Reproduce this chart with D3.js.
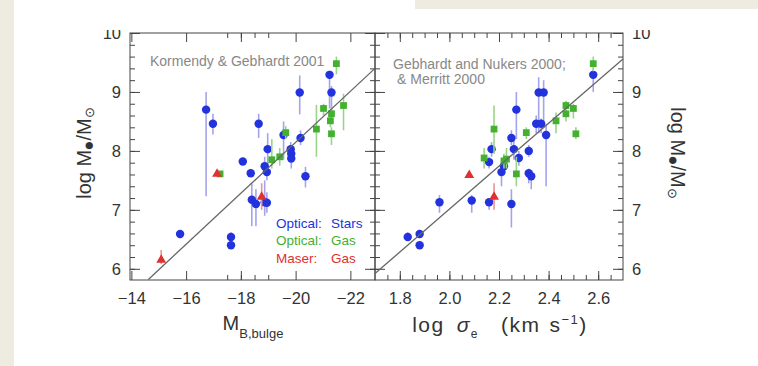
<!DOCTYPE html>
<html>
<head>
<meta charset="utf-8">
<script src="https://cdn.jsdelivr.net/npm/d3@7"></script>
<style>
  body { margin: 0; background: #fff; }
  svg { display: block; font-family: "Liberation Sans", Arial, sans-serif; }
</style>
</head>
<body>
<svg id="chart" width="758" height="366"></svg>
<script>
// ---- data: [x, log M, errLow, errHigh] (null = no error bar) ----
// left panel: M_B,bulge
var kgStars = [
  [-16.73, 8.70, 7.23, 9.00], [-16.98, 8.46, 8.28, 8.63], [-15.78, 6.59, 6.52, 6.66],
  [-17.64, 6.54, 6.48, 6.62], [-17.64, 6.40, 6.36, 6.44], [-18.07, 7.82, 7.78, 7.86],
  [-18.36, 7.62, 7.58, 7.66], [-18.65, 8.46, 8.22, 8.63], [-18.87, 7.74, 7.60, 7.90],
  [-18.95, 7.64, 7.50, 7.75], [-18.98, 8.03, 7.70, 8.30], [-19.56, 8.27, 7.85, 8.50],
  [-19.82, 8.03, 7.90, 8.15], [-19.84, 7.95, 7.80, 8.10], [-19.84, 7.87, 7.70, 8.00],
  [-20.18, 8.22, 8.10, 8.35], [-20.15, 8.99, 8.62, 9.28], [-20.36, 7.57, 7.38, 7.73],
  [-21.24, 9.29, 8.72, 9.36], [-21.31, 8.99, 8.55, 9.10], [-18.40, 7.17, 6.72, 7.45],
  [-18.55, 7.10, 6.72, 7.35], [-18.87, 7.13, 6.90, 7.50], [-18.95, 7.12, 6.95, 7.30]
];
var kgGas = [
  [-17.24, 7.61, null, null], [-19.13, 7.85, 7.70, 8.20], [-19.42, 7.90, 7.75, 8.05],
  [-19.64, 8.31, 8.20, 8.42], [-20.76, 8.37, 7.90, 8.78], [-21.02, 8.72, 8.60, 8.80],
  [-21.27, 8.51, 8.40, 8.60], [-21.31, 8.63, 8.50, 8.75], [-21.31, 8.29, 8.10, 8.40],
  [-21.75, 8.77, 8.35, 8.97], [-21.49, 9.48, 9.30, 9.60]
];
var kgMaser = [
  [-15.09, 6.15, 6.08, 6.32], [-17.13, 7.61, null, null], [-18.76, 7.22, 7.00, 7.45]
];
// right panel: log sigma_e
var sigStars = [
  [1.832, 6.54, 6.48, 6.62], [1.88, 6.59, 6.53, 6.65], [1.88, 6.40, 6.36, 6.44],
  [1.96, 7.13, 6.95, 7.25], [2.09, 7.16, 6.95, 7.25], [2.16, 7.13, 7.00, 7.20],
  [2.25, 7.10, 6.70, 7.35], [2.16, 7.81, 7.70, 7.90], [2.22, 7.74, 7.60, 7.85],
  [2.21, 7.64, 7.40, 7.75], [2.28, 7.88, 7.75, 8.00], [2.32, 7.62, 7.45, 7.70],
  [2.33, 7.57, 7.35, 7.65], [2.32, 8.00, 7.90, 8.10], [2.17, 8.03, 7.90, 8.15],
  [2.26, 8.03, 7.85, 8.20], [2.25, 8.22, 8.10, 8.35], [2.27, 8.70, 8.20, 9.00],
  [2.35, 8.46, 8.30, 8.60], [2.37, 8.46, 8.30, 8.55], [2.39, 8.27, 7.40, 8.45],
  [2.36, 8.99, 8.30, 9.25], [2.38, 8.99, 8.40, 9.20], [2.58, 9.29, 9.00, 9.40]
];
var sigGas = [
  [2.18, 8.37, 7.95, 8.77], [2.14, 7.88, 7.70, 8.05], [2.23, 7.86, 7.70, 8.05],
  [2.22, 7.83, 7.70, 7.95], [2.27, 7.61, 7.40, 7.90], [2.31, 8.31, 8.20, 8.40],
  [2.43, 8.51, 8.30, 8.65], [2.47, 8.77, 8.60, 8.85], [2.47, 8.63, 8.50, 8.75],
  [2.50, 8.72, 8.55, 8.80], [2.51, 8.29, 8.20, 8.40], [2.58, 9.48, 9.35, 9.60]
];
var sigMaser = [
  [2.08, 7.59, null, null], [2.18, 7.22, 7.00, 7.45]
];
// fit lines (end points)
var fitLeftX = [-14.62, -22.9], fitLeftY = [5.82, 9.40];
var fitRightX = [1.70, 2.70], fitRightY = [5.92, 9.56];
// ticks
var magTicks = [-14, -16, -18, -20, -22];
var sigTicks = [1.8, 2.0, 2.2, 2.4, 2.6];
var massTicks = [6, 7, 8, 9, 10];
var legendNames = ["Optical:", "Optical:", "Maser:"];
var legendKinds = ["Stars", "Gas", "Gas"];

var svg = d3.select("#chart");
var plotTop = 33, plotBottom = 280, xL0 = 130, xMid = 375, xR1 = 623;

// page background bits
svg.append("rect").attr("x", 0).attr("y", 0).attr("width", 14).attr("height", 366).attr("fill", "#eeebe0");
svg.append("rect").attr("x", 415).attr("y", 0).attr("width", 343).attr("height", 9).attr("fill", "#eeebe0");

svg.append("defs").append("clipPath").attr("id", "cut")
  .append("rect").attr("x", 0).attr("y", 30).attr("width", 758).attr("height", 336);

var y = d3.scaleLinear().domain([5.81, 10]).range([plotBottom, plotTop]);
var xL = d3.scaleLinear().domain([-13.95, -22.9]).range([xL0, xMid]);
var xR = d3.scaleLinear().domain([1.7, 2.7]).range([xMid, xR1]);

var colors = {stars: "#2233dd", gas: "#44b030", maser: "#e03030"};
var barColors = {stars: "#a4a4ec", gas: "#9ad488", maser: "#f09090"};
var axisCol = "#444";

function styleAxis(g) {
  g.select(".domain").remove();
  g.selectAll("line").attr("stroke", axisCol);
  g.selectAll("text").attr("fill", "#333").attr("font-size", 16.5)
    .attr("font-family", "'Liberation Sans', Arial, sans-serif");
}

function drawAxes(x, x0, x1, majors, minorStep, fmt, leftLabels, rightLabels) {
  var minors = d3.range(majors[0] - 10 * minorStep, majors[majors.length - 1] + 10 * minorStep, minorStep)
    .filter(function(v) { var p = x(v); return p > x0 + 1 && p < x1 - 1; });
  var yMinor = d3.range(5.8, 10.01, 0.2).filter(function(v) { return y(v) < plotBottom - 1 && y(v) > plotTop + 1; });
  var ax = svg.append("g").attr("clip-path", "url(#cut)");

  // bottom
  ax.append("g").attr("transform", "translate(0," + plotBottom + ")")
    .call(d3.axisBottom(x).tickValues(minors).tickSize(-5).tickFormat("")).call(styleAxis);
  ax.append("g").attr("transform", "translate(0," + plotBottom + ")")
    .call(d3.axisBottom(x).tickValues(majors).tickSize(-9).tickPadding(12).tickFormat(d3.format(fmt))).call(styleAxis);
  // top
  ax.append("g").attr("transform", "translate(0," + plotTop + ")")
    .call(d3.axisTop(x).tickValues(minors).tickSize(-5).tickFormat("")).call(styleAxis);
  ax.append("g").attr("transform", "translate(0," + plotTop + ")")
    .call(d3.axisTop(x).tickValues(majors).tickSize(-9).tickFormat("")).call(styleAxis);
  // left
  ax.append("g").attr("transform", "translate(" + x0 + ",0)")
    .call(d3.axisLeft(y).tickValues(yMinor).tickSize(-5).tickFormat("")).call(styleAxis);
  ax.append("g").attr("transform", "translate(" + x0 + ",0)")
    .call(d3.axisLeft(y).tickValues(massTicks).tickSize(-10).tickPadding(9)
      .tickFormat(leftLabels ? d3.format("d") : "")).call(styleAxis);
  // right
  ax.append("g").attr("transform", "translate(" + x1 + ",0)")
    .call(d3.axisRight(y).tickValues(yMinor).tickSize(-5).tickFormat("")).call(styleAxis);
  ax.append("g").attr("transform", "translate(" + x1 + ",0)")
    .call(d3.axisRight(y).tickValues(massTicks).tickSize(-10).tickPadding(9)
      .tickFormat(rightLabels ? d3.format("d") : "")).call(styleAxis);

  svg.append("rect").attr("x", x0).attr("y", plotTop).attr("width", x1 - x0).attr("height", plotBottom - plotTop)
    .attr("fill", "none").attr("stroke", axisCol).attr("stroke-width", 1);
}

function drawPoints(g, x, data, kind) {
  var bars = data.filter(function(d) { return d[2] != null; });
  g.selectAll(null).data(bars).enter().append("line")
    .attr("x1", function(d) { return x(d[0]); }).attr("x2", function(d) { return x(d[0]); })
    .attr("y1", function(d) { return y(d[2]); }).attr("y2", function(d) { return y(d[3]); })
    .attr("stroke", barColors[kind]).attr("stroke-width", 1.6);
  var sym = kind == "stars" ? d3.symbolCircle : kind == "gas" ? d3.symbolSquare : d3.symbolTriangle;
  var size = kind == "stars" ? 56 : kind == "gas" ? 46 : 42;
  g.selectAll(null).data(data).enter().append("path")
    .attr("d", d3.symbol().type(sym).size(size))
    .attr("transform", function(d) { return "translate(" + x(d[0]) + "," + y(d[1]) + ")"; })
    .attr("fill", colors[kind]);
}

function drawFit(g, x, fx, fy) {
  g.append("path").datum(d3.zip(fx, fy))
    .attr("d", d3.line().x(function(d) { return x(d[0]); }).y(function(d) { return y(d[1]); }))
    .attr("stroke", "#666").attr("stroke-width", 1.3).attr("fill", "none");
}

drawAxes(xL, xL0, xMid, magTicks, 0.5, "d", true, false);
drawAxes(xR, xMid, xR1, sigTicks, 0.05, ".1f", false, true);

var gl = svg.append("g");
drawPoints(gl, xL, kgStars, "stars");
drawPoints(gl, xL, kgGas, "gas");
drawPoints(gl, xL, kgMaser, "maser");
drawFit(gl, xL, fitLeftX, fitLeftY);

var gr = svg.append("g");
drawPoints(gr, xR, sigStars, "stars");
drawPoints(gr, xR, sigGas, "gas");
drawPoints(gr, xR, sigMaser, "maser");
drawFit(gr, xR, fitRightX, fitRightY);

// notes
svg.append("text").attr("x", 150).attr("y", 66).attr("font-size", 14).attr("fill", "#888")
  .text("Kormendy & Gebhardt 2001");
svg.append("text").attr("x", 393).attr("y", 69).attr("font-size", 14).attr("fill", "#888")
  .text("Gebhardt and Nukers 2000;");
svg.append("text").attr("x", 397).attr("y", 84).attr("font-size", 14).attr("fill", "#888")
  .text("& Merritt 2000");

// legend
var legCols = [colors.stars, colors.gas, colors.maser];
legendNames.forEach(function(n, i) {
  svg.append("text").attr("x", 276).attr("y", 227.5 + i * 17.5).attr("font-size", 13.5)
    .attr("fill", legCols[i]).text(n);
  svg.append("text").attr("x", 331).attr("y", 227.5 + i * 17.5).attr("font-size", 13.5)
    .attr("fill", legCols[i]).text(legendKinds[i]);
});

// axis titles
function massLabel(g) {
  g.append("tspan").text("log M");
  g.append("tspan").attr("font-size", 17).attr("dy", 3).attr("dx", -1).text("\u25CF");
  g.append("tspan").attr("dy", -3).text("/M");
  g.append("tspan").attr("font-size", 13).attr("dy", 3).text("\u2299");
}
svg.append("text").attr("font-size", 20).attr("fill", "#333").attr("text-anchor", "middle")
  .attr("transform", "translate(91,153) rotate(-90)").call(massLabel);
svg.append("text").attr("font-size", 20).attr("fill", "#333").attr("text-anchor", "middle")
  .attr("transform", "translate(671,153) rotate(90)").call(massLabel);

var xl = svg.append("text").attr("x", 253).attr("y", 330).attr("font-size", 20).attr("fill", "#333")
  .attr("text-anchor", "middle");
xl.append("tspan").text("M");
xl.append("tspan").attr("font-size", 13).attr("dy", 8).text("B,bulge");

var xr = svg.append("text").attr("x", 500).attr("y", 332).attr("font-size", 21).attr("fill", "#333")
  .attr("text-anchor", "middle").attr("letter-spacing", 1.5);
xr.append("tspan").text("log");
xr.append("tspan").attr("dx", 12).attr("font-style", "italic").text("\u03C3");
xr.append("tspan").attr("font-size", 12).attr("dy", 6).text("e");
xr.append("tspan").attr("dx", 22).attr("dy", -6).text("(km");
xr.append("tspan").attr("dx", 9).text("s");
xr.append("tspan").attr("font-size", 13).attr("dy", -8).text("\u22121");
xr.append("tspan").attr("dy", 8).text(")");
</script>
</body>
</html>
